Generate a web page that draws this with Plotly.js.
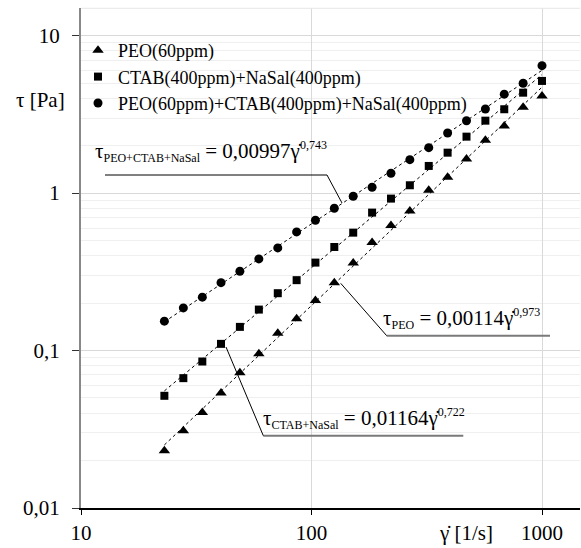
<!DOCTYPE html>
<html>
<head>
<meta charset="utf-8">
<script src="https://cdn.plot.ly/plotly-3.0.1.min.js"></script>
<style>html,body{margin:0;padding:0;background:#fff;}#chart{width:581px;height:548px;}</style>
</head>
<body>
<div id="chart"></div>
<script>
// ---- data ----
const shearRate = [23.0, 27.8, 33.6, 40.5, 48.9, 59.1, 71.4, 86.2, 104.0, 125.6, 151.7, 183.2, 221.2, 267.1, 322.6, 389.5, 470.4, 568.0, 685.9, 828.3, 1000];
const tauPEO  = [0.0231, 0.0310, 0.0404, 0.0538, 0.0722, 0.0953, 0.129, 0.159, 0.208, 0.270, 0.360, 0.485, 0.622, 0.771, 1.043, 1.262, 1.649, 2.167, 2.672, 3.51, 4.14];
const tauCTAB = [0.0516, 0.0668, 0.0852, 0.1103, 0.1414, 0.1821, 0.2314, 0.280, 0.362, 0.455, 0.561, 0.752, 0.923, 1.122, 1.488, 1.807, 2.284, 2.886, 3.41, 4.345, 5.16];
const tauMix  = [0.1537, 0.1866, 0.2183, 0.270, 0.319, 0.382, 0.449, 0.567, 0.673, 0.802, 0.956, 1.090, 1.338, 1.632, 1.945, 2.41, 2.88, 3.42, 4.25, 4.99, 6.45];
const seriesNames = ['PEO(60ppm)', 'CTAB(400ppm)+NaSal(400ppm)', 'PEO(60ppm)+CTAB(400ppm)+NaSal(400ppm)'];
const yTickVals = [0.01, 0.1, 1, 10];
const yTickText = ['0,01', '0,1', '1', '10'];
const xTickVals = [10, 100, 1000];
const xTickText = ['10', '100', '1000'];
const eqMix  = {name: 'PEO+CTAB+NaSal', k: '0,00997', n: '0,743'};
const eqPEO  = {name: 'PEO', k: '0,00114', n: '0,973'};
const eqCTAB = {name: 'CTAB+NaSal', k: '0,01164', n: '0,722'};

const FONT = 'Liberation Serif, Times New Roman, serif';

// power-law fit (least squares in log-log) for the dashed trend lines
function powerFit(x, y) {
  const lx = x.map(Math.log10), ly = y.map(Math.log10);
  const n = lx.length;
  const mx = lx.reduce((a, b) => a + b, 0) / n, my = ly.reduce((a, b) => a + b, 0) / n;
  let sxy = 0, sxx = 0;
  for (let i = 0; i < n; i++) { sxy += (lx[i] - mx) * (ly[i] - my); sxx += (lx[i] - mx) ** 2; }
  const b = sxy / sxx, a = my - b * mx;
  const xs = [x[0], x[x.length - 1]];
  return {x: xs, y: xs.map(v => Math.pow(10, a + b * Math.log10(v)))};
}

const sets = [
  {y: tauPEO, sym: 'triangle-up', size: 10},
  {y: tauCTAB, sym: 'square', size: 8},
  {y: tauMix, sym: 'circle', size: 9}
];
const traces = [];
sets.forEach((s, i) => {
  const f = powerFit(shearRate, s.y);
  traces.push({x: f.x, y: f.y, mode: 'lines', showlegend: false, hoverinfo: 'skip',
    line: {color: '#000', width: 1, dash: '3px,3px'}});
});
sets.forEach((s, i) => {
  traces.push({x: shearRate, y: s.y, mode: 'markers', name: seriesNames[i],
    marker: {symbol: s.sym, size: s.size, color: '#000'}});
});

// pixel -> paper helper (plot area: x 81..580, y 8..508)
const L = 81, R = 580, T = 8, B = 508;
const px = x => (x - L) / (R - L);
const py = y => (B - y) / (B - T);

function eqText(e) {
  return 'τ<sub><span style="font-size:12px">' + e.name + '</span></sub> = ' + e.k +
         'γ̇<sup><span style="font-size:12px">' + e.n + '</span></sup>';
}

const annotations = [
  {text: eqText(eqMix), x: px(93), y: py(151), xanchor: 'left', yanchor: 'middle'},
  {text: eqText(eqPEO), x: px(381), y: py(318), xanchor: 'left', yanchor: 'middle'},
  {text: eqText(eqCTAB), x: px(261), y: py(418), xanchor: 'left', yanchor: 'middle'},
  {text: 'τ [Pa]', x: px(40), y: py(100), xanchor: 'center', yanchor: 'middle'},
  {text: 'γ̇ [1/s]', x: px(466), y: py(533), xanchor: 'center', yanchor: 'middle'}
].map(a => Object.assign({xref: 'paper', yref: 'paper', showarrow: false, align: 'left',
  font: {family: FONT, size: 21, color: '#000'}}, a));

function seg(x0, y0, x1, y1, color, width) {
  return {type: 'line', xref: 'paper', yref: 'paper', x0: px(x0), y0: py(y0), x1: px(x1), y1: py(y1),
    line: {color: color, width: width}};
}
const shapes = [
  seg(81, 8.3, 580, 8.3, '#e6e6e6', 1),
  seg(105, 175, 327, 175, '#000', 1),
  seg(327, 175, 342, 203, '#000', 1),
  seg(386.7, 335.7, 550, 335.7, '#7a7a7a', 2),
  seg(386.7, 335.7, 340.7, 283.3, '#000', 1),
  seg(263.3, 435.7, 463.3, 435.7, '#7a7a7a', 2),
  seg(263.3, 435.7, 226, 347, '#000', 1)
];

const layout = {
  width: 581, height: 548,
  margin: {l: L, r: 581 - R, t: T, b: 548 - B},
  paper_bgcolor: '#fff', plot_bgcolor: '#fff',
  font: {family: FONT, size: 20, color: '#000'},
  showlegend: true,
  legend: {x: px(78), y: py(32), xanchor: 'left', yanchor: 'top', bgcolor: 'rgba(0,0,0,0)',
    font: {family: FONT, size: 18, color: '#000'}, itemwidth: 30, tracegroupgap: 0},
  xaxis: {type: 'log', range: [1, 1 + (R - L) / 230.5], tickvals: xTickVals, ticktext: xTickText,
    showgrid: true, gridcolor: '#d9d9d9', gridwidth: 1,
    showline: true, linecolor: '#000', linewidth: 1.5, ticks: 'outside', ticklen: 5, tickcolor: '#000',
    tickfont: {family: FONT, size: 21, color: '#000'}, ticklabelstandoff: 0, zeroline: false},
  yaxis: {type: 'log', range: [-2, 1 + (35.7 - T) / 157.5], tickvals: yTickVals, ticktext: yTickText,
    showgrid: true, gridcolor: '#d9d9d9', gridwidth: 1,
    minor: {dtick: 'D1', showgrid: true, gridcolor: '#efefef', gridwidth: 1, ticks: ''},
    showline: true, linecolor: '#888', linewidth: 2, ticks: 'outside', ticklen: 7, tickcolor: '#333',
    tickfont: {family: FONT, size: 21, color: '#000'}, ticklabelstandoff: 8, zeroline: false},
  annotations: annotations,
  shapes: shapes
};

Plotly.newPlot('chart', traces, layout, {displayModeBar: false, staticPlot: true});
</script>
</body>
</html>
